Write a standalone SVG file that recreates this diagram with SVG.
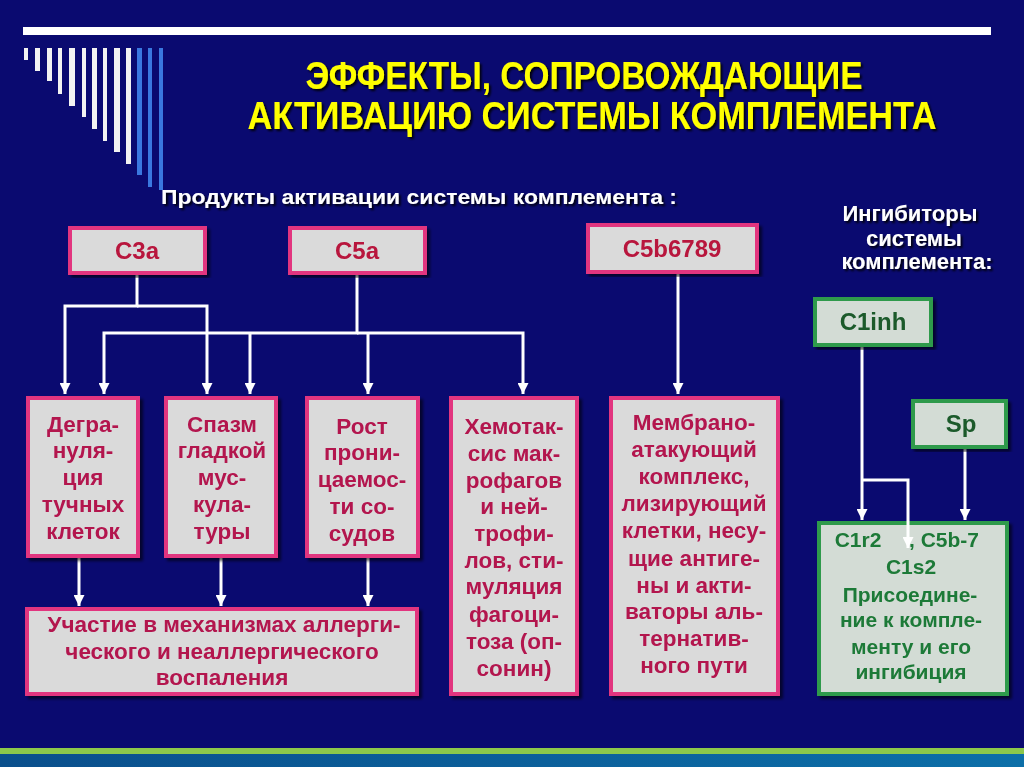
<svg xmlns="http://www.w3.org/2000/svg" width="1024" height="767" viewBox="0 0 1024 767">
<defs>
<style>
.pbox{fill:#dadada;stroke:#e2347f;stroke-width:4}
.gbox{fill:#d3dcd5;stroke:#2e9a4c;stroke-width:4}
.f{font-family:"Liberation Sans",Arial,sans-serif;font-weight:bold;text-anchor:middle}
.pt{font-size:22.5px;fill:#b3124e}
.tt{font-size:24px;fill:#b8143c}
.gt{font-size:21px;fill:#1f7a38}
.gh{font-size:24px;fill:#1a5a2c}
.wt{fill:#ffffff}
.title{font-size:38px;fill:#ffff00}
.conn path{stroke:#ffffff;stroke-width:3;fill:none}
.bar{fill:#f2f2f2}
.bbar{fill:#3a78e0}
</style>
<filter id="ts" x="-5%" y="-20%" width="110%" height="150%">
<feDropShadow dx="2" dy="2" stdDeviation="0.8" flood-color="#000000" flood-opacity="0.9"/>
</filter>
<filter id="bs" x="-10%" y="-10%" width="120%" height="120%">
<feDropShadow dx="3" dy="3" stdDeviation="1.5" flood-color="#000000" flood-opacity="0.6"/>
</filter>
<marker id="ah" viewBox="0 0 10 10" refX="10" refY="5" markerWidth="11" markerHeight="11" markerUnits="userSpaceOnUse" orient="auto">
<path d="M0,0 L10,5 L0,10 z" fill="#ffffff"/>
</marker>
<linearGradient id="bot" x1="0" y1="0" x2="1" y2="0">
<stop offset="0" stop-color="#0a4f8c"/>
<stop offset="1" stop-color="#0c6fa8"/>
</linearGradient>
</defs>

<rect x="0" y="0" width="1024" height="767" fill="#0a0a70"/>

<g id="decor">
<rect x="23" y="27" width="968" height="8" fill="#ffffff"/>
<rect class="bar" x="24" y="48" width="4" height="12"/>
<rect class="bar" x="35" y="48" width="5" height="23"/>
<rect class="bar" x="47" y="48" width="5" height="33"/>
<rect class="bar" x="58" y="48" width="4" height="46"/>
<rect class="bar" x="69" y="48" width="6" height="58"/>
<rect class="bar" x="82" y="48" width="4" height="69"/>
<rect class="bar" x="92" y="48" width="5" height="81"/>
<rect class="bar" x="103" y="48" width="4" height="93"/>
<rect class="bar" x="114" y="48" width="6" height="104"/>
<rect class="bar" x="126" y="48" width="5" height="116"/>
<rect class="bbar" x="137" y="48" width="5" height="127"/>
<rect class="bbar" x="148" y="48" width="4" height="139"/>
<rect class="bbar" x="159" y="48" width="4" height="142"/>
<rect x="0" y="748" width="1024" height="6" fill="#8cc84b"/>
<rect x="0" y="754" width="1024" height="13" fill="url(#bot)"/>
</g>

<g id="title" filter="url(#ts)">
<text class="f title" x="584" y="89" textLength="557" lengthAdjust="spacingAndGlyphs">ЭФФЕКТЫ, СОПРОВОЖДАЮЩИЕ</text>
<text class="f title" x="592" y="129" textLength="689" lengthAdjust="spacingAndGlyphs">АКТИВАЦИЮ СИСТЕМЫ КОМПЛЕМЕНТА</text>
<text class="f wt" x="419" y="204" font-size="20" textLength="516" lengthAdjust="spacingAndGlyphs">Продукты активации системы комплемента :</text>
<text class="f wt" x="910" y="221" font-size="22">Ингибиторы</text>
<text class="f wt" x="914" y="246" font-size="22">системы</text>
<text class="f wt" x="917" y="269" font-size="22">комплемента:</text>
</g>

<g class="conn">
<path d="M137,273 V306 H65 V394" marker-end="url(#ah)"/>
<path d="M137,306 H207 V394" marker-end="url(#ah)"/>
<path d="M357,273 V333 H104 V394" marker-end="url(#ah)"/>
<path d="M357,333 H523 V394" marker-end="url(#ah)"/>
<path d="M250,333 V394" marker-end="url(#ah)"/>
<path d="M368,333 V394" marker-end="url(#ah)"/>
<path d="M678,272 V394" marker-end="url(#ah)"/>
<path d="M79,556 V606" marker-end="url(#ah)"/>
<path d="M221,556 V606" marker-end="url(#ah)"/>
<path d="M368,556 V606" marker-end="url(#ah)"/>
<path d="M862,345 V520" marker-end="url(#ah)"/>
<path d="M965,447 V520" marker-end="url(#ah)"/>
</g>

<g id="C3a" filter="url(#bs)">
<rect class="pbox" x="70" y="228" width="135" height="45"/>
<text class="f tt" x="137" y="259">C3a</text>
</g>
<g id="C5a" filter="url(#bs)">
<rect class="pbox" x="290" y="228" width="135" height="45"/>
<text class="f tt" x="357" y="259">C5a</text>
</g>
<g id="C5b6789" filter="url(#bs)">
<rect class="pbox" x="588" y="225" width="169" height="47"/>
<text class="f tt" x="672" y="257">C5b6789</text>
</g>
<g id="C1inh" filter="url(#bs)">
<rect class="gbox" x="815" y="299" width="116" height="46"/>
<text class="f gh" x="873" y="330">C1inh</text>
</g>
<g id="Sp" filter="url(#bs)">
<rect class="gbox" x="913" y="401" width="93" height="46"/>
<text class="f gh" x="961" y="432">Sp</text>
</g>

<g id="degranulation" filter="url(#bs)">
<rect class="pbox" x="28" y="398" width="110" height="158"/>
<text class="f pt" x="83" y="432">Дегра-</text>
<text class="f pt" x="83" y="458">нуля-</text>
<text class="f pt" x="83" y="485">ция</text>
<text class="f pt" x="83" y="512">тучных</text>
<text class="f pt" x="83" y="539">клеток</text>
</g>
<g id="spasm" filter="url(#bs)">
<rect class="pbox" x="166" y="398" width="110" height="158"/>
<text class="f pt" x="222" y="432">Спазм</text>
<text class="f pt" x="222" y="458">гладкой</text>
<text class="f pt" x="222" y="485">мус-</text>
<text class="f pt" x="222" y="512">кула-</text>
<text class="f pt" x="222" y="539">туры</text>
</g>
<g id="permeability" filter="url(#bs)">
<rect class="pbox" x="307" y="398" width="111" height="158"/>
<text class="f pt" x="362" y="434">Рост</text>
<text class="f pt" x="362" y="460">прони-</text>
<text class="f pt" x="362" y="487">цаемос-</text>
<text class="f pt" x="362" y="514">ти со-</text>
<text class="f pt" x="362" y="541">судов</text>
</g>
<g id="chemotaxis" filter="url(#bs)">
<rect class="pbox" x="451" y="398" width="126" height="296"/>
<text class="f pt" x="514" y="434">Хемотак-</text>
<text class="f pt" x="514" y="461">сис мак-</text>
<text class="f pt" x="514" y="488">рофагов</text>
<text class="f pt" x="514" y="514">и ней-</text>
<text class="f pt" x="514" y="541">трофи-</text>
<text class="f pt" x="514" y="568">лов, сти-</text>
<text class="f pt" x="514" y="594">муляция</text>
<text class="f pt" x="514" y="622">фагоци-</text>
<text class="f pt" x="514" y="649">тоза (оп-</text>
<text class="f pt" x="514" y="676">сонин)</text>
</g>
<g id="mac" filter="url(#bs)">
<rect class="pbox" x="611" y="398" width="167" height="296"/>
<text class="f pt" x="694" y="430">Мембрано-</text>
<text class="f pt" x="694" y="457">атакующий</text>
<text class="f pt" x="694" y="484">комплекс,</text>
<text class="f pt" x="694" y="511">лизирующий</text>
<text class="f pt" x="694" y="538">клетки, несу-</text>
<text class="f pt" x="694" y="566">щие антиге-</text>
<text class="f pt" x="694" y="593">ны и акти-</text>
<text class="f pt" x="694" y="619">ваторы аль-</text>
<text class="f pt" x="694" y="646">тернатив-</text>
<text class="f pt" x="694" y="673">ного пути</text>
</g>
<g id="inflammation" filter="url(#bs)">
<rect class="pbox" x="27" y="609" width="390" height="85"/>
<text class="f pt" x="224" y="632">Участие в механизмах аллерги-</text>
<text class="f pt" x="222" y="659">ческого и неаллергического</text>
<text class="f pt" x="222" y="685">воспаления</text>
</g>
<g id="inhibition" filter="url(#bs)">
<rect class="gbox" x="819" y="523" width="188" height="171"/>
<text class="f gt" x="858" y="547">C1r2</text>
<text class="f gt" x="909" y="547" style="text-anchor:start">, C5b-7</text>
<text class="f gt" x="911" y="574">C1s2</text>
<text class="f gt" x="910" y="602">Присоедине-</text>
<text class="f gt" x="911" y="627">ние к компле-</text>
<text class="f gt" x="911" y="654">менту и его</text>
<text class="f gt" x="911" y="679">ингибиция</text>
</g>

<g class="conn" id="inner-connector">
<path d="M862,480 H908 V548" marker-end="url(#ah)"/>
</g>
</svg>
